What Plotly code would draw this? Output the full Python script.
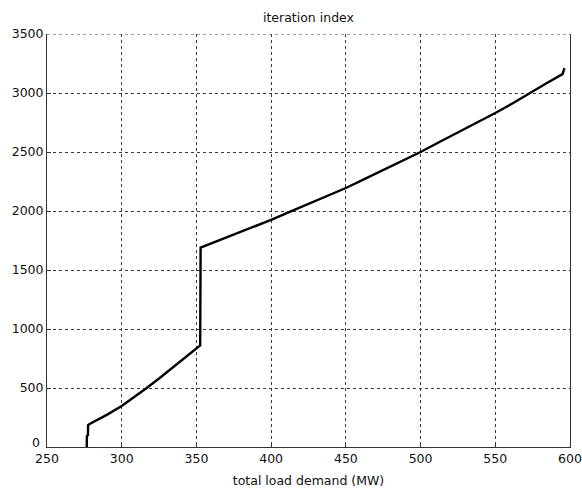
import plotly.graph_objects as go

# total load demand (MW)
load_mw = [276.6, 276.7, 277.4, 277.5, 278.5, 290, 300, 308, 316.7, 325, 333,
           341, 350, 351.5, 352.5, 352.8, 365, 375, 387, 400, 412, 425, 437,
           450, 462, 475, 487, 500, 512, 525, 537, 550, 562, 573, 584, 595, 596.3]
# iteration index
iteration = [0, 93, 100, 186, 195, 272, 347, 418, 500, 580, 660,
             742, 836, 850, 860, 1690, 1750, 1800, 1860, 1925, 1990, 2060, 2125,
             2195, 2268, 2345, 2420, 2500, 2580, 2665, 2745, 2830, 2915, 3000, 3080, 3160, 3210]

x_ticks = [250, 300, 350, 400, 450, 500, 550, 600]
y_ticks = [0, 500, 1000, 1500, 2000, 2500, 3000, 3500]

FONT = "DejaVu Sans"
GRID = "#3a3a3a"

fig = go.Figure()
fig.add_trace(go.Scatter(x=load_mw, y=iteration, mode="lines",
                         line=dict(color="black", width=2.4), showlegend=False))

# dashed grid line along the top edge (y = 3500)
fig.add_shape(type="line", xref="x", yref="y", x0=250, x1=600, y0=3500, y1=3500,
              line=dict(color=GRID, width=1.2, dash="3px,3px"), layer="above")

# the "0" y tick label sits slightly raised, as in the original
fig.add_annotation(text=str(y_ticks[0]), xref="paper", yref="y", x=0, y=y_ticks[0],
                   xanchor="right", yanchor="middle", xshift=-5, yshift=5,
                   showarrow=False, font=dict(family=FONT, size=12.5, color="#111"))

fig.update_layout(
    width=582, height=491,
    margin=dict(l=47, r=12, t=34, b=44),
    paper_bgcolor="white", plot_bgcolor="white",
    font=dict(family=FONT, size=12.5, color="#111"),
    title=dict(text="iteration index", x=0.53, xanchor="center",
               y=1 - 18 / 491, yanchor="middle", yref="container",
               font=dict(family=FONT, size=12.5, color="#111")),
)
fig.update_xaxes(
    range=[250, 600], tickvals=x_ticks, ticktext=[str(v) for v in x_ticks],
    showline=True, linecolor="#333", linewidth=1, mirror=False,
    showgrid=True, gridcolor=GRID, gridwidth=1, griddash="3px,3px",
    zeroline=False, ticks="inside", ticklen=4, tickcolor="#333",
    tickfont=dict(family=FONT, size=12.5), automargin=False,
    title=dict(text="total load demand (MW)", standoff=11,
               font=dict(family=FONT, size=12.5, color="#111")),
)
fig.update_yaxes(
    range=[0, 3500], tickvals=y_ticks,
    ticktext=[""] + [str(v) for v in y_ticks[1:]],
    showline=True, linecolor="#333", linewidth=1, mirror=True,
    showgrid=True, gridcolor=GRID, gridwidth=1, griddash="3px,3px",
    zeroline=False, ticks="inside", ticklen=4, tickcolor="#333",
    tickfont=dict(family=FONT, size=12.5), automargin=False,
)

fig.write_html("out.html", config={"displayModeBar": False},
               post_script="document.body.style.margin='0';document.body.style.padding='0';")
